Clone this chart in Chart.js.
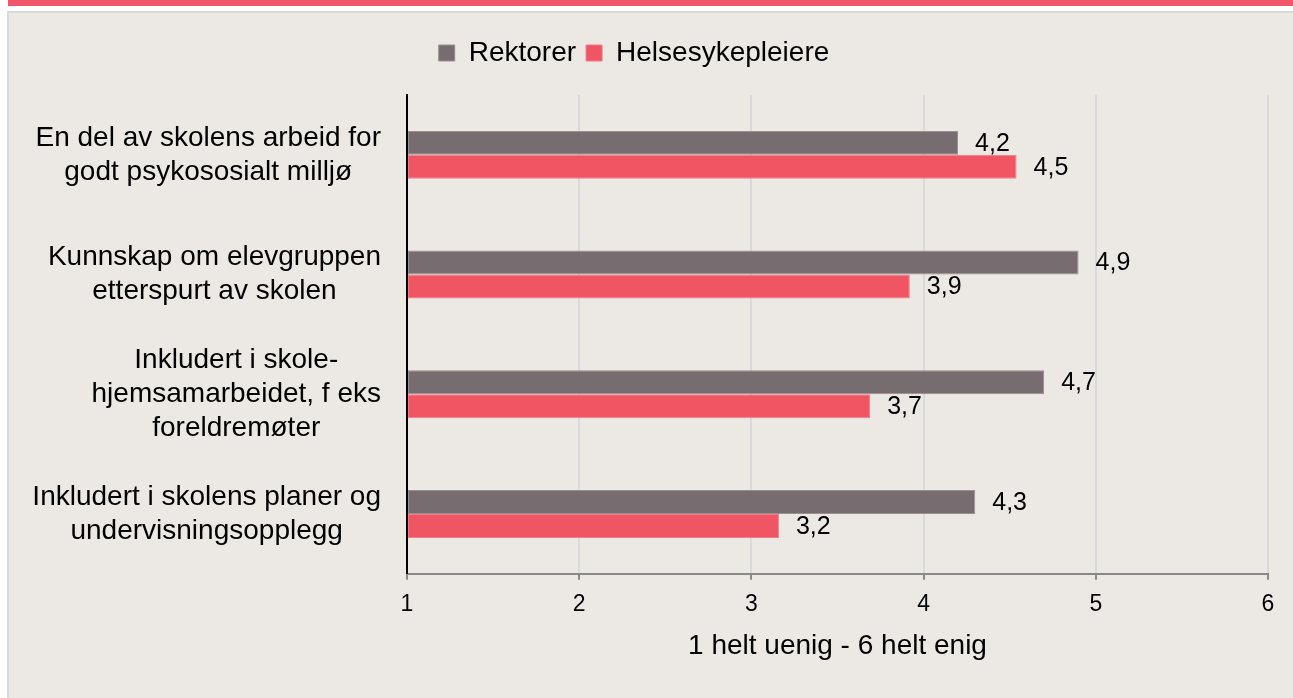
<!DOCTYPE html>
<html>
<head>
<meta charset="utf-8">
<script src="https://cdn.jsdelivr.net/npm/chart.js@4.4.0/dist/chart.umd.min.js"></script>
<style>
  html, body { margin: 0; padding: 0; background: #fff; overflow: hidden; }
  #myChart { display: block; }
</style>
</head>
<body>
<canvas id="myChart" width="1293" height="698"></canvas>
<script>
// données
const categories = [
    ['En del av skolens arbeid for', 'godt psykososialt milljø'],
    ['Kunnskap om elevgruppen', 'etterspurt av skolen'],
    ['Inkludert i skole-', 'hjemsamarbeidet, f eks', 'foreldremøter'],
    ['Inkludert i skolens planer og', 'undervisningsopplegg']
];
const rektorer = [4.2, 4.9, 4.7, 4.3];
const helsesykepleiere = [4.54, 3.92, 3.69, 3.16];
const xTicks = [1, 2, 3, 4, 5, 6];
const axisTitle = '1 helt uenig - 6 helt enig';

const police = '"Liberation Sans", Arial, sans-serif';

// fond : bande rouge en haut + cadre beige
const fond = {
    id: 'fond',
    beforeDraw(chart) {
        const ctx = chart.ctx;
        const w = chart.width, h = chart.height;
        ctx.save();
        ctx.fillStyle = '#fff';
        ctx.fillRect(0, 0, w, h);
        ctx.fillStyle = '#F2566A';
        ctx.fillRect(8, 0, w - 8, 6);
        ctx.fillStyle = '#D9D9D9';
        ctx.fillRect(7, 11, w - 7, h - 11);
        ctx.fillStyle = '#ECE9E5';
        ctx.fillRect(9, 13, w - 9, h - 13);
        ctx.restore();
    }
};

// legende un peu plus haute pour laisser de la place au-dessus du graphe
const legendGap = {
    id: 'legendGap',
    beforeInit(chart) {
        const fit = chart.legend.fit;
        chart.legend.fit = function () {
            fit.bind(chart.legend)();
            this.height += 18;
        };
    }
};

// libellés des catégories : bloc aligné à droite, lignes centrées
const catLabels = {
    id: 'catLabels',
    afterDraw(chart) {
        const ctx = chart.ctx;
        const yScale = chart.scales.y;
        const right = chart.chartArea.left - 26;
        ctx.save();
        ctx.font = '28px ' + police;
        ctx.fillStyle = '#000';
        ctx.textAlign = 'center';
        ctx.textBaseline = 'middle';
        for (let i = 0; i < categories.length; i++) {
            const lines = categories[i];
            let w = 0;
            for (const l of lines) w = Math.max(w, ctx.measureText(l).width);
            const cx = right - w / 2;
            const cy = yScale.getPixelForTick(i);
            for (let j = 0; j < lines.length; j++) {
                ctx.fillText(lines[j], cx, cy + (j - (lines.length - 1) / 2) * 34);
            }
        }
        ctx.restore();
    }
};

// valeurs au bout des barres, avec virgule décimale
const valueLabels = {
    id: 'valueLabels',
    afterDatasetsDraw(chart) {
        const ctx = chart.ctx;
        ctx.save();
        ctx.font = '25px ' + police;
        ctx.fillStyle = '#000';
        ctx.textAlign = 'left';
        ctx.textBaseline = 'middle';
        chart.data.datasets.forEach((ds, d) => {
            chart.getDatasetMeta(d).data.forEach((bar, i) => {
                const txt = ds.data[i].toFixed(1).replace('.', ',');
                ctx.fillText(txt, bar.x + 17, bar.y + 1);
            });
        });
        ctx.restore();
    }
};

new Chart(document.getElementById('myChart'), {
    type: 'bar',
    data: {
        labels: categories,
        datasets: [{
            label: 'Rektorer',
            data: rektorer,
            base: xTicks[0],
            backgroundColor: '#776C70',
            borderColor: '#978F92',
            borderWidth: 1,
            borderSkipped: false
        }, {
            label: 'Helsesykepleiere',
            data: helsesykepleiere,
            base: xTicks[0],
            backgroundColor: '#F05563',
            borderColor: '#F47A86',
            borderWidth: 1,
            borderSkipped: false
        }]
    },
    options: {
        indexAxis: 'y',
        responsive: false,
        animation: false,
        devicePixelRatio: 1,
        categoryPercentage: 0.4,
        barPercentage: 1.0,
        layout: { padding: { top: 29, right: 25, bottom: 35, left: 0 } },
        plugins: {
            legend: {
                position: 'top',
                labels: {
                    color: '#000',
                    font: { family: police, size: 28 },
                    boxWidth: 16,
                    boxHeight: 16,
                    padding: 10
                }
            },
            tooltip: { enabled: false }
        },
        scales: {
            x: {
                min: xTicks[0],
                max: xTicks[xTicks.length - 1],
                ticks: {
                    stepSize: 1,
                    color: '#000',
                    padding: 11,
                    font: { family: police, size: 23 }
                },
                grid: {
                    color: '#D9D9D9',
                    lineWidth: 2,
                    tickColor: '#898989',
                    tickLength: 6
                },
                border: { color: '#898989', width: 2 },
                title: {
                    display: true,
                    text: axisTitle,
                    color: '#000',
                    font: { family: police, size: 28 },
                    padding: { top: 0, bottom: 0 }
                }
            },
            y: {
                ticks: { display: false },
                grid: { display: false },
                border: { color: '#000', width: 2, z: 1 },
                afterFit(scale) { scale.width = 407; }
            }
        }
    },
    plugins: [fond, legendGap, catLabels, valueLabels]
});
</script>
</body>
</html>
